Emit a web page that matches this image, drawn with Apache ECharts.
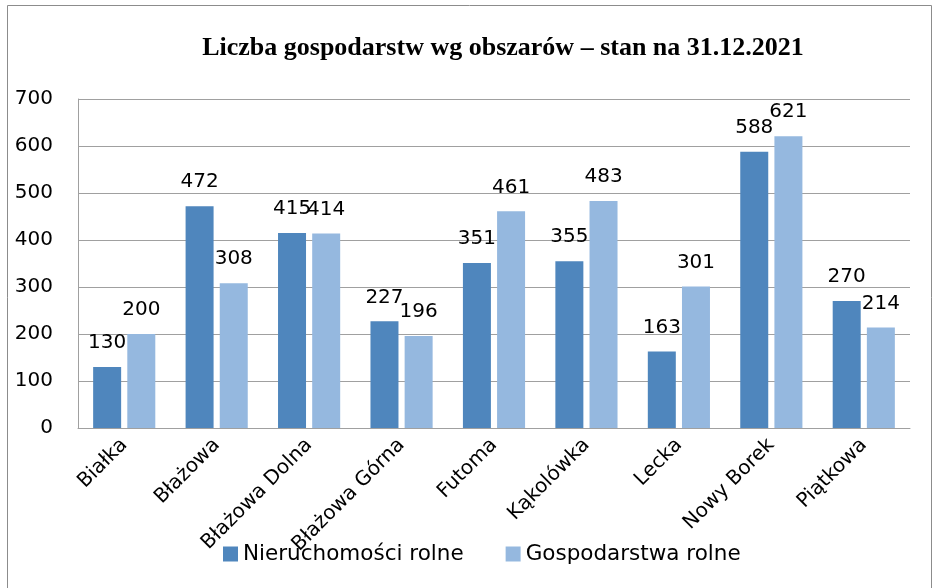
<!DOCTYPE html>
<html>
<head>
<meta charset="utf-8">
<script src="https://cdn.jsdelivr.net/npm/echarts@6/dist/echarts.min.js"></script>
<style>
  html, body { margin: 0; padding: 0; background: #fff; }
  #chart-div { width: 938px; height: 588px; }
</style>
</head>
<body>
<div id="chart-div"></div>
<script>
const categories = ['Białka', 'Błażowa', 'Błażowa Dolna', 'Błażowa Górna', 'Futoma', 'Kąkolówka', 'Lecka', 'Nowy Borek', 'Piątkowa'];
const nieruchomosci = [130, 472, 415, 227, 351, 355, 163, 588, 270];
const gospodarstwa = [200, 308, 414, 196, 461, 483, 301, 621, 214];
const yTicks = [0, 700, 100];

const darkBlue = '#4f86bd';
const lightBlue = '#95b8df';
const font = 'DejaVu Sans';

var myChart = echarts.init(document.getElementById('chart-div'));

const labelStyle = {
  show: true,
  position: 'top',
  distance: 14,
  color: '#000',
  fontFamily: font,
  fontSize: 20,
};

myChart.setOption({
  backgroundColor: '#fff',
  animation: false,
  title: {
    text: 'Liczba gospodarstw wg obszarów – stan na 31.12.2021',
    left: 498,
    top: 30,
    textAlign: 'center',
    textStyle: {
      fontFamily: 'Liberation Serif',
      fontWeight: 'bold',
      fontSize: 26,
      color: '#000',
    },
  },
  graphic: [
    {
      type: 'rect',
      shape: { x: 7.5, y: 5.5, width: 924, height: 600 },
      style: { fill: 'none', stroke: '#8c8c8c', lineWidth: 1 },
      silent: true,
    },
  ],
  legend: {
    left: 218,
    top: 538,
    itemWidth: 15,
    itemHeight: 15,
    itemGap: 42,
    icon: 'rect',
    textStyle: { fontFamily: font, fontSize: 21.5, color: '#000' },
    data: ['Nieruchomości rolne', 'Gospodarstwa rolne'],
  },
  grid: { left: 78, right: 28, top: 99, bottom: 160, containLabel: false },
  xAxis: {
    type: 'category',
    data: categories,
    axisLine: { lineStyle: { color: '#a0a0a0' } },
    axisTick: { show: false },
    axisLabel: {
      rotate: 45,
      margin: 14,
      interval: 0,
      color: '#000',
      fontFamily: font,
      fontSize: 20,
    },
  },
  yAxis: {
    type: 'value',
    min: yTicks[0],
    max: yTicks[1],
    interval: yTicks[2],
    axisLine: { show: true, lineStyle: { color: '#a0a0a0' } },
    axisTick: { show: false },
    splitLine: { lineStyle: { color: '#a0a0a0' } },
    axisLabel: {
      margin: 25,
      color: '#000',
      fontFamily: font,
      fontSize: 20,
    },
  },
  series: [
    {
      name: 'Nieruchomości rolne',
      type: 'bar',
      data: nieruchomosci,
      barWidth: 28,
      barGap: '22%',
      itemStyle: { color: darkBlue },
      label: labelStyle,
    },
    {
      name: 'Gospodarstwa rolne',
      type: 'bar',
      data: gospodarstwa,
      barWidth: 28,
      itemStyle: { color: lightBlue },
      label: labelStyle,
    },
  ],
});
</script>
</body>
</html>
